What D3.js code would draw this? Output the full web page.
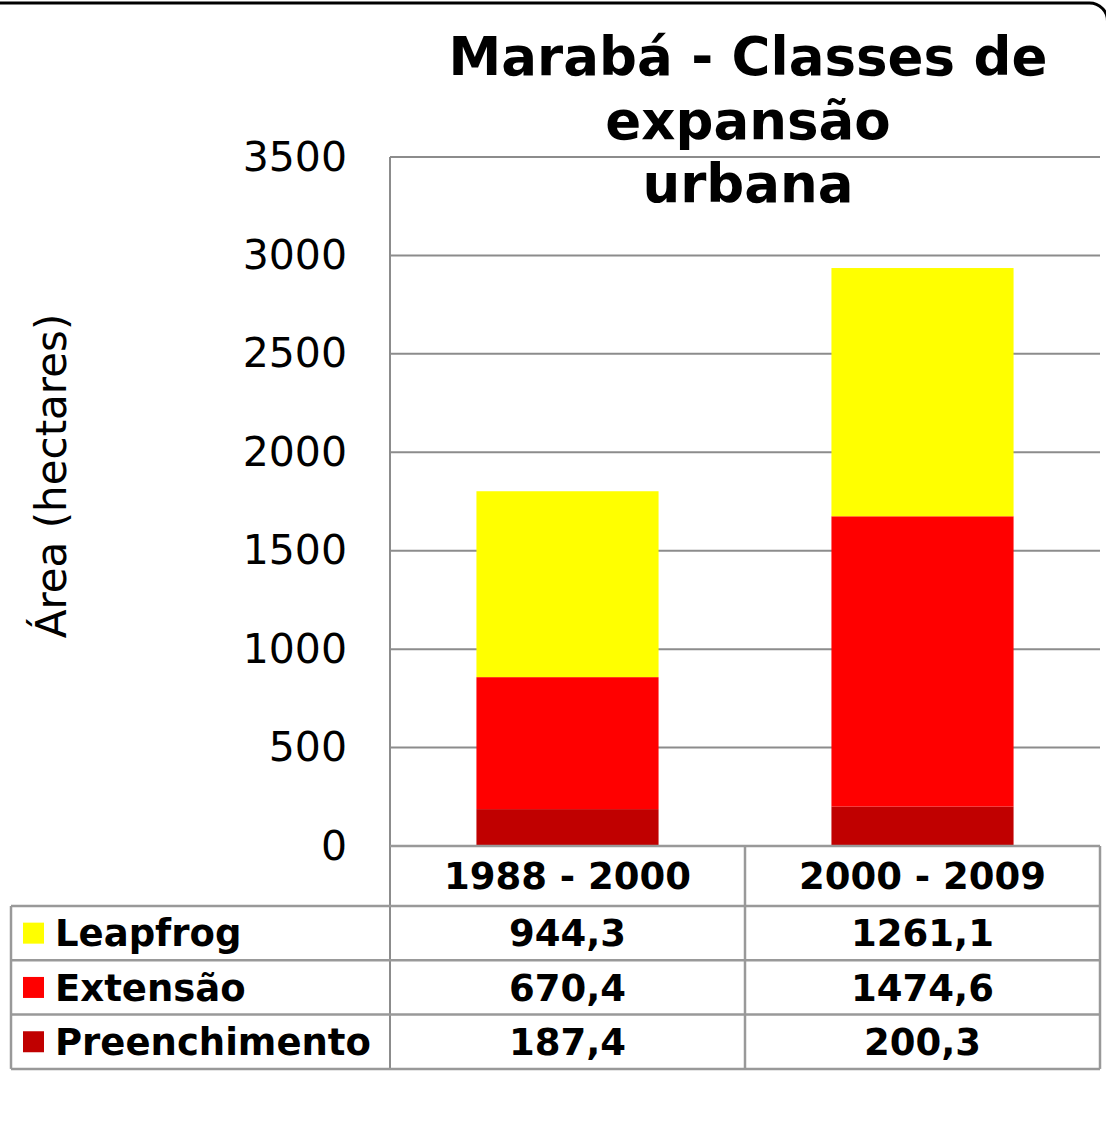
<!DOCTYPE html>
<html>
<head>
<meta charset="utf-8">
<script src="https://cdn.jsdelivr.net/npm/d3@7/dist/d3.min.js"></script>
<style>
  html, body { margin: 0; padding: 0; background: #fff; }
  svg { display: block; }
</style>
</head>
<body>
<svg id="chart" width="1106" height="1131"></svg>
<script>
// Urban expansion classes for Marabá, area in hectares
const periods = ["1988 - 2000", "2000 - 2009"];
const classNames = ["Leapfrog", "Extensão", "Preenchimento"];
const leapfrog = [944.3, 1261.1];
const extensao = [670.4, 1474.6];
const preenchimento = [187.4, 200.3];
const yTicks = [0, 500, 1000, 1500, 2000, 2500, 3000, 3500];
const titleLines = ["Marabá - Classes de", "expansão", "urbana"];
const yLabel = "Área (hectares)";

const seriesValues = { "Leapfrog": leapfrog, "Extensão": extensao, "Preenchimento": preenchimento };
const colors = { "Leapfrog": "#FFFF00", "Extensão": "#FF0000", "Preenchimento": "#C00000" };
const fmt = v => d3.format(".1f")(v).replace(".", ",");

const svg = d3.select("#chart");
const fontFam = "'DejaVu Sans', Verdana, sans-serif";
const gridColor = "#8c8c8c";
const tableColor = "#999999";

// Outer rounded frame
svg.append("rect")
  .attr("x", -30).attr("y", 3).attr("width", 1137.5).attr("height", 1200)
  .attr("rx", 18).attr("ry", 18)
  .attr("fill", "none").attr("stroke", "#000").attr("stroke-width", 3);

const plotLeft = 390, plotRight = 1100, plotTop = 157, plotBottom = 846;
const x = d3.scaleBand().domain(periods).range([plotLeft, plotRight]).padding(0);
const y = d3.scaleLinear().domain([0, 3500]).range([plotBottom, plotTop]);
const barW = x.bandwidth() * 0.513;

// Horizontal gridlines
svg.append("g").selectAll("line").data(yTicks.filter(t => t > 0)).join("line")
  .attr("x1", plotLeft).attr("x2", plotRight)
  .attr("y1", d => y(d)).attr("y2", d => y(d))
  .attr("stroke", gridColor).attr("stroke-width", 2);

// Y axis labels
const yAxis = d3.axisLeft(y).tickValues(yTicks).tickSize(0).tickPadding(0).tickFormat(d3.format("d"));
const gy = svg.append("g").attr("transform", `translate(${plotLeft - 43},0)`).call(yAxis);
gy.select(".domain").remove();
gy.selectAll("text")
  .attr("font-family", fontFam).attr("font-size", 41).attr("fill", "#000")
  .attr("dy", "0.32em");

// Stacked bars
const rows = periods.map((p, i) => {
  const r = { period: p };
  classNames.forEach(c => r[c] = seriesValues[c][i]);
  return r;
});
const stack = d3.stack().keys(["Preenchimento", "Extensão", "Leapfrog"]);
const layers = stack(rows);
svg.append("g").selectAll("g").data(layers).join("g")
  .attr("fill", d => colors[d.key])
  .selectAll("rect").data(d => d).join("rect")
    .attr("x", d => x(d.data.period) + (x.bandwidth() - barW) / 2)
    .attr("width", barW)
    .attr("y", d => y(d[1]))
    .attr("height", d => y(d[0]) - y(d[1]));

// Y axis line
svg.append("line")
  .attr("x1", plotLeft).attr("x2", plotLeft).attr("y1", plotTop).attr("y2", 1068)
  .attr("stroke", gridColor).attr("stroke-width", 2);

// Data table
const tableLeft = 11, headerTop = plotBottom, headerH = 60, rowH = 54.3;
const rowTop = headerTop + headerH;
const tableBottom = rowTop + rowH * classNames.length;
const tg = svg.append("g");

// horizontal rules
tg.append("line").attr("x1", plotLeft).attr("x2", plotRight).attr("y1", headerTop).attr("y2", headerTop)
  .attr("stroke", tableColor).attr("stroke-width", 2.5);
d3.range(classNames.length + 1).forEach(i => {
  const yy = rowTop + i * rowH;
  tg.append("line").attr("x1", tableLeft).attr("x2", plotRight).attr("y1", yy).attr("y2", yy)
    .attr("stroke", tableColor).attr("stroke-width", 2.5);
});
// vertical rules
tg.append("line").attr("x1", tableLeft).attr("x2", tableLeft).attr("y1", rowTop).attr("y2", tableBottom)
  .attr("stroke", tableColor).attr("stroke-width", 2.5);
periods.forEach(p => {
  tg.append("line").attr("x1", x(p) + x.bandwidth()).attr("x2", x(p) + x.bandwidth())
    .attr("y1", headerTop).attr("y2", tableBottom)
    .attr("stroke", tableColor).attr("stroke-width", 2.5);
});

// header cells
tg.selectAll("text.hdr").data(periods).join("text").attr("class", "hdr")
  .attr("x", d => x(d) + x.bandwidth() / 2).attr("y", headerTop + headerH / 2)
  .attr("dy", "0.36em").attr("text-anchor", "middle")
  .attr("font-family", fontFam).attr("font-weight", "bold").attr("font-size", 37)
  .text(d => d);

// legend rows + values
classNames.forEach((c, i) => {
  const cy = rowTop + i * rowH + rowH / 2;
  tg.append("rect").attr("x", 23).attr("y", cy - 10.5).attr("width", 21).attr("height", 21)
    .attr("fill", colors[c]);
  tg.append("text").attr("x", 55).attr("y", cy).attr("dy", "0.36em")
    .attr("font-family", fontFam).attr("font-weight", "bold").attr("font-size", 37)
    .text(c);
  periods.forEach((p, j) => {
    tg.append("text").attr("x", x(p) + x.bandwidth() / 2).attr("y", cy).attr("dy", "0.36em")
      .attr("text-anchor", "middle")
      .attr("font-family", fontFam).attr("font-weight", "bold").attr("font-size", 37)
      .text(fmt(seriesValues[c][j]));
  });
});

// Title
svg.append("text").attr("text-anchor", "middle")
  .attr("font-family", fontFam).attr("font-weight", "bold").attr("font-size", 53)
  .selectAll("tspan").data(titleLines).join("tspan")
    .attr("x", 748).attr("y", (d, i) => 75 + i * 63.5)
    .text(d => d);

// Y axis title
svg.append("text")
  .attr("transform", "translate(66,476) rotate(-90)")
  .attr("text-anchor", "middle")
  .attr("font-family", fontFam).attr("font-size", 42)
  .text(yLabel);
</script>
</body>
</html>
